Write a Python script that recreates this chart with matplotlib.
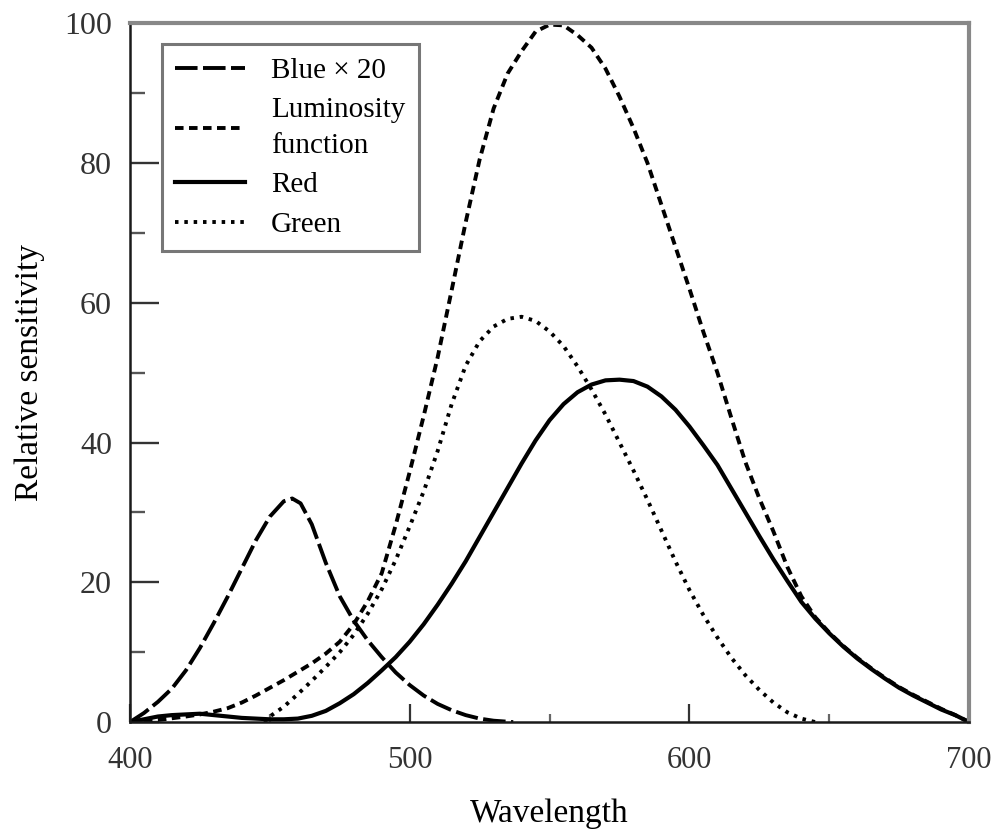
import matplotlib
matplotlib.use("Agg")
import matplotlib.pyplot as plt
from matplotlib.ticker import MultipleLocator

plt.rcParams["font.family"] = ["Liberation Serif", "DejaVu Serif"]

# ── Data (wavelength in nm, relative sensitivity) ───
blue_wl = [400, 405, 410, 415, 420, 425, 430, 435, 440, 445, 450, 455, 458,
           461, 465, 470, 475, 480, 485, 490, 495, 500, 505, 510, 515, 520,
           525, 530, 537]
blue_val = [0, 1.3, 2.9, 4.8, 7.4, 10.6, 14.2, 18.0, 22.0, 26.0, 29.4, 31.6,
            32.0, 31.3, 28.3, 22.8, 18.0, 14.5, 11.7, 9.3, 7.1, 5.3, 3.8, 2.6,
            1.7, 1.0, 0.5, 0.2, 0]

lum_wl = [400, 410, 420, 425, 430, 435, 440, 445, 450, 455, 460, 465, 470,
          475, 480, 485, 490, 495, 500, 505, 510, 515, 520, 525, 530, 535,
          540, 545, 550, 555, 560, 565, 570, 575, 580, 585, 590, 595, 600,
          605, 610, 615, 620, 625, 630, 635, 640, 645, 650, 655, 660, 665,
          670, 675, 680, 685, 690, 695, 700]
lum_val = [0, 0.3, 0.8, 1.1, 1.5, 2.0, 2.8, 3.8, 4.9, 6.0, 7.2, 8.4, 9.8,
           11.5, 14.0, 17.3, 21.3, 28.2, 35.8, 43.8, 52.2, 61.8, 71.5, 80.5,
           87.8, 92.8, 96.0, 98.8, 99.8, 99.7, 98.3, 96.5, 93.5, 89.5, 85.0,
           80.0, 74.0, 68.0, 62.0, 55.8, 50.0, 43.5, 37.2, 32.0, 27.3, 22.2,
           18.0, 15.0, 12.8, 10.9, 9.2, 7.7, 6.3, 5.0, 3.9, 2.9, 1.9, 1.0, 0]

red_wl = [400, 405, 410, 415, 420, 425, 430, 435, 440, 445, 450, 455, 460,
          465, 470, 475, 480, 485, 490, 495, 500, 505, 510, 515, 520, 525,
          530, 535, 540, 545, 550, 555, 560, 565, 570, 575, 580, 585, 590,
          595, 600, 605, 610, 615, 620, 625, 630, 635, 640, 645, 650, 655,
          660, 665, 670, 675, 680, 685, 690, 695, 700]
red_val = [0, 0.4, 0.8, 1.0, 1.1, 1.2, 1.0, 0.8, 0.6, 0.5, 0.4, 0.4, 0.5,
           0.9, 1.6, 2.7, 4.0, 5.6, 7.4, 9.3, 11.5, 14.0, 16.8, 19.8, 23.0,
           26.5, 30.0, 33.5, 37.0, 40.3, 43.2, 45.5, 47.2, 48.3, 48.9, 49.0,
           48.8, 48.0, 46.6, 44.7, 42.3, 39.6, 36.8, 33.4, 30.0, 26.6, 23.3,
           20.2, 17.2, 14.8, 12.7, 10.8, 9.1, 7.6, 6.2, 4.9, 3.8, 2.8, 1.8,
           1.0, 0]

green_wl = [448, 450, 455, 460, 465, 470, 475, 480, 485, 490, 495, 500, 505,
            510, 515, 520, 525, 530, 535, 540, 545, 550, 555, 560, 565, 570,
            575, 580, 585, 590, 595, 600, 605, 610, 615, 620, 625, 630, 635,
            640, 645]
green_val = [0, 0.8, 2.2, 4.0, 5.9, 7.9, 10.0, 12.5, 15.5, 19.0, 23.2, 28.0,
             33.0, 38.8, 45.5, 51.0, 54.5, 56.6, 57.7, 58.0, 57.4, 55.9, 53.8,
             50.9, 47.6, 44.0, 40.0, 36.0, 31.8, 27.4, 23.0, 18.9, 15.3, 12.1,
             9.2, 6.7, 4.6, 2.8, 1.4, 0.5, 0]

# ── Figure ───────────────────────────────────────────────────────────────────
fig = plt.figure(figsize=(9.92, 8.30), dpi=100)
ax = fig.add_axes([0.131, 0.130, 0.846, 0.842])

lw = 2.8
ax.plot(blue_wl, blue_val, color="black", lw=lw, dashes=(5.8, 1.4),
        label="Blue × 20")
ax.plot(lum_wl, lum_val, color="black", lw=lw, dashes=(2.2, 1.4),
        label="Luminosity\nfunction")
ax.plot(red_wl, red_val, color="black", lw=3.0, label="Red")
ax.plot(green_wl, green_val, color="black", lw=lw, dashes=(0.9, 1.5),
        label="Green")

ax.set_xlim(400, 700)
ax.set_ylim(0, 100)
ax.xaxis.set_major_locator(MultipleLocator(100))
ax.xaxis.set_minor_locator(MultipleLocator(50))
ax.yaxis.set_major_locator(MultipleLocator(20))
ax.yaxis.set_minor_locator(MultipleLocator(10))

ax.tick_params(axis="x", which="major", direction="in", length=13, width=1.6,
               labelsize=22, pad=17, colors="#333333")
ax.tick_params(axis="x", which="minor", direction="in", length=6, width=1.6,
               colors="#666666")
ax.tick_params(axis="y", which="major", direction="in", length=21, width=1.7,
               labelsize=23, pad=13, colors="#333333")
ax.tick_params(axis="y", which="minor", direction="in", length=11, width=1.7,
               colors="#555555")

for side in ("left", "bottom"):
    ax.spines[side].set_color("#1a1a1a")
    ax.spines[side].set_linewidth(1.8)
for side in ("top", "right"):
    ax.spines[side].set_color("#888888")
    ax.spines[side].set_linewidth(3.0)

ax.set_xlabel("Wavelength", fontsize=24, labelpad=17)
ax.set_ylabel("Relative sensitivity", fontsize=24, labelpad=14)

leg = ax.legend(loc="upper left", bbox_to_anchor=(0.038, 0.970),
                borderaxespad=0, fontsize=21, handlelength=2.4,
                handletextpad=0.9, labelspacing=0.45, borderpad=0.45,
                frameon=True, fancybox=False)
leg.get_texts()[1].set_linespacing(1.5)
leg.get_frame().set_edgecolor("#555555")
leg.get_frame().set_linewidth(2.2)

fig.savefig("out.png", dpi=100)
